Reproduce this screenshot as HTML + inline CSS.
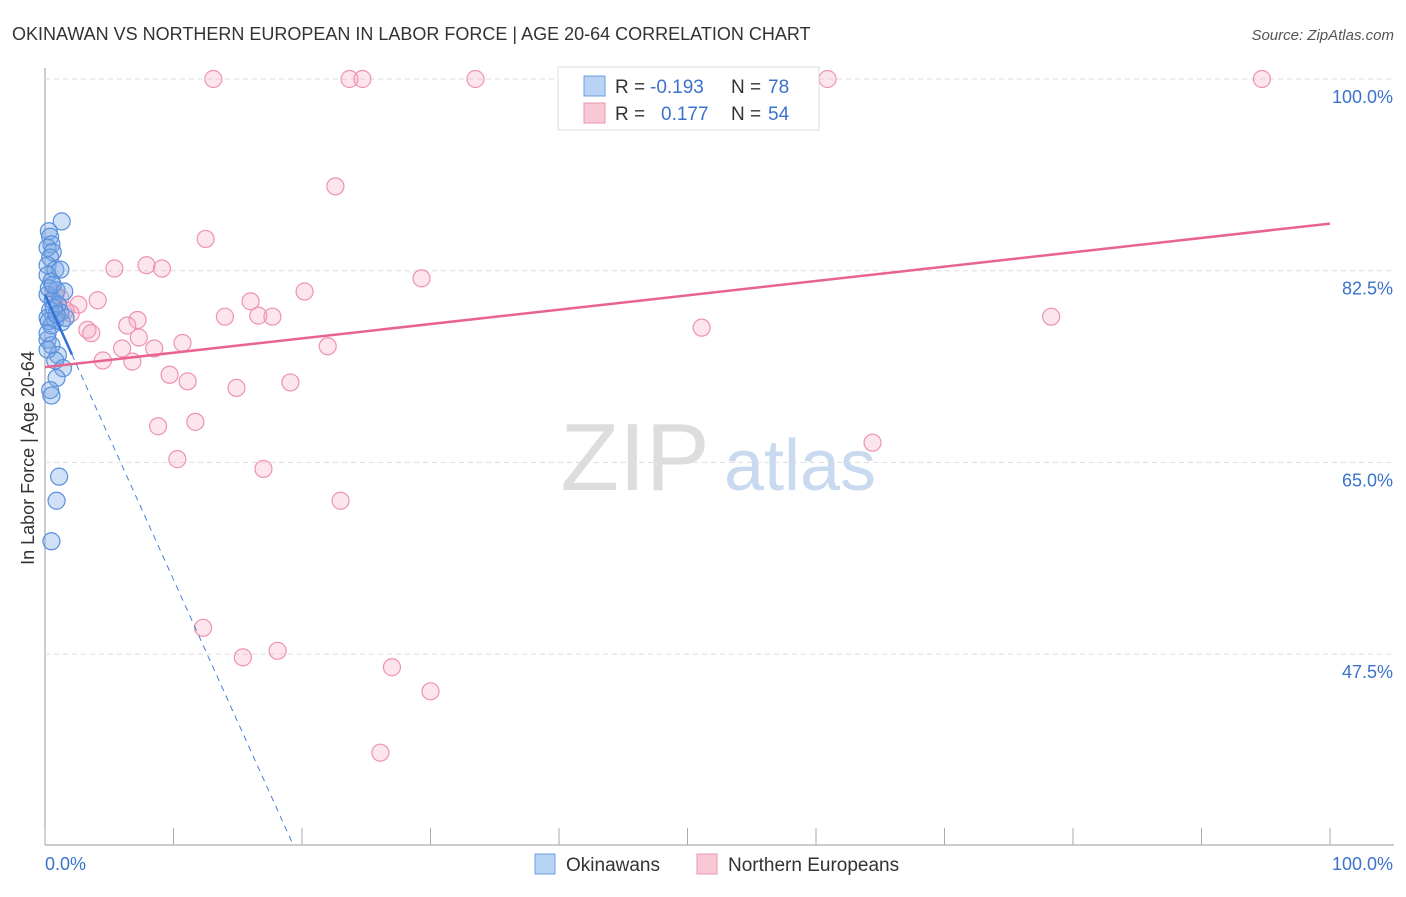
<!DOCTYPE html>
<html><head><meta charset="utf-8"><style>
body{margin:0;background:#fff;font-family:"Liberation Sans",sans-serif}
svg text{font-family:"Liberation Sans",sans-serif}
</style></head><body>
<svg id="c" width="1406" height="892">
<text x="12" y="40" font-size="18" fill="#333">OKINAWAN VS NORTHERN EUROPEAN IN LABOR FORCE | AGE 20-64 CORRELATION CHART</text>
<text x="1394" y="40" font-size="15" fill="#555" font-style="italic" text-anchor="end">Source: ZipAtlas.com</text>
<text x="34" y="458" font-size="18" fill="#333" text-anchor="middle" transform="rotate(-90 34 458)">In Labor Force | Age 20-64</text>
<g><text x="635" y="490" font-size="96" fill="#ddd" font-family="Liberation Serif" text-anchor="middle">ZIP</text><text x="800" y="490" font-size="72" fill="#c8d9f0" text-anchor="middle">atlas</text></g>
<g id="grid"></g><g id="pts"></g><g id="lines"></g>
<g>
<rect x="558" y="67" width="261" height="63" fill="#fff" stroke="#ddd"/>
<rect x="584" y="76" width="21" height="20" fill="#b9d3f5" stroke="#6a9fe0"/>
<rect x="584" y="103" width="21" height="20" fill="#f9c8d6" stroke="#ee93ad"/>
<text x="615" y="93" font-size="19" fill="#333">R =</text><text x="650" y="93" font-size="19" fill="#3a72cc">-0.193</text>
<text x="731" y="93" font-size="19" fill="#333">N =</text><text x="768" y="93" font-size="19" fill="#3a72cc">78</text>
<text x="615" y="120" font-size="19" fill="#333">R =</text><text x="661" y="120" font-size="19" fill="#3a72cc">0.177</text>
<text x="731" y="120" font-size="19" fill="#333">N =</text><text x="768" y="120" font-size="19" fill="#3a72cc">54</text>
</g>
<g>
<rect x="535" y="854" width="20" height="20" fill="#b9d3f5" stroke="#6a9fe0"/>
<text x="566" y="871" font-size="19" fill="#333">Okinawans</text>
<rect x="697" y="854" width="20" height="20" fill="#f9c8d6" stroke="#ee93ad"/>
<text x="728" y="871" font-size="19" fill="#333">Northern Europeans</text>
</g>
</svg>
<script>
const yTicks=[100,82.5,65,47.5];
const yTickLabels=["100.0%","82.5%","65.0%","47.5%"];
const xTickLabels=["0.0%","100.0%"];
const blueX=[1.3,0.3,0.4,0.5,0.2,0.6,0.4,0.2,0.8,1.2,0.2,0.5,0.9,1.5,0.2,0.6,1.0,0.4,1.2,0.2,0.8,1.3,0.5,1.6,0.2,0.5,1.0,0.2,0.8,1.4,0.9,0.4,0.5,1.1,0.9,0.5,0.3,0.7,0.3,0.6,0.2,0.9];
const blueY=[87.0,86.1,85.6,84.9,84.6,84.2,83.7,83.0,82.6,82.6,82.1,81.5,80.7,80.6,80.3,79.8,79.4,78.9,78.7,78.2,78.0,77.8,77.5,78.2,76.2,75.7,74.8,75.3,74.3,73.6,72.7,71.6,71.1,63.7,61.5,57.8,80.9,79.1,77.9,81.2,76.8,78.5];
const pinkX=[13.1,23.7,24.7,33.5,40.9,60.9,94.7,22.6,12.5,5.4,7.9,9.1,29.3,20.2,4.1,16.0,2.6,1.2,2.0,14.0,16.6,17.7,78.3,7.2,6.4,51.1,3.3,3.6,7.3,6.0,10.7,8.5,22.0,4.5,6.8,9.7,11.1,14.9,19.1,8.8,11.7,64.4,10.3,17.0,23.0,12.3,15.4,18.1,27.0,30.0,26.1,0.8,1.6];
const pinkY=[100,100,100,100,100,100,100,90.2,85.4,82.7,83.0,82.7,81.8,80.6,79.8,79.7,79.4,80.0,78.6,78.3,78.4,78.3,78.3,78.0,77.5,77.3,77.1,76.8,76.4,75.4,75.9,75.4,75.6,74.3,74.2,73.0,72.4,71.8,72.3,68.3,68.7,66.8,65.3,64.4,61.5,49.9,47.2,47.8,46.3,44.1,38.5,80.3,78.9];
const blueLine=[80.3,-2.6]; const pinkLine=[73.7,0.131];
const NS="http://www.w3.org/2000/svg";
const X=v=>45+v*12.85, Y=v=>79+(100-v)*10.954;
function mk(t,a,p){const e=document.createElementNS(NS,t);for(const k in a)e.setAttribute(k,a[k]);p.appendChild(e);return e;}
const g=document.getElementById('grid'),c=document.getElementById('c');
let ax=mk('line',{x1:45,y1:68,x2:45,y2:845,stroke:'#999'},g);


let bx=mk('line',{x1:45,y1:845,x2:1394,y2:845,stroke:'#999'},g);


for(let i=0;i<=10;i++){let t=mk('line',{x1:X(i*10),x2:X(i*10),y1:828,y2:845,stroke:'#aaa'},g);

}
yTicks.forEach((v,i)=>{let l=mk('line',{x1:45,x2:1394,y1:Y(v),y2:Y(v),stroke:'#ddd','stroke-dasharray':'5,4'},g);


let t=mk('text',{x:1393,y:Y(v)+24,'font-size':18,fill:'#3a72cc','text-anchor':'end'},g);t.textContent=yTickLabels[i];

});
[[0,'start',45],[1,'end',1393]].forEach(([i,a,x])=>{let t=mk('text',{x:x,y:870,'font-size':18,fill:'#3a72cc','text-anchor':a},g);t.textContent=xTickLabels[i];

});
const p=document.getElementById('pts');
pinkX.forEach((x,i)=>{let e=mk('circle',{cx:X(x),cy:Y(pinkY[i]),r:8.5,fill:'rgba(246,170,195,0.3)',stroke:'#ee93ad','stroke-width':1.2},p);

});
blueX.forEach((x,i)=>{let e=mk('circle',{cx:X(x),cy:Y(blueY[i]),r:8.5,fill:'rgba(120,165,230,0.35)',stroke:'#5a90dc','stroke-width':1.2},p);

});
const L=document.getElementById('lines');
let pl=mk('line',{x1:X(0),y1:Y(pinkLine[0]),x2:X(100),y2:Y(pinkLine[0]+pinkLine[1]*100),stroke:'#e8638f','stroke-width':2.5},L);


let bl=mk('line',{x1:X(0),y1:Y(blueLine[0]),x2:X(2.1),y2:Y(blueLine[0]+blueLine[1]*2.1),stroke:'#2f6fd6','stroke-width':2.5},L);


let bd=mk('line',{x1:X(2.1),y1:Y(blueLine[0]+blueLine[1]*2.1),x2:X(19.3),y2:Y(blueLine[0]+blueLine[1]*19.3),stroke:'#4a80d8','stroke-width':1,'stroke-dasharray':'6,5'},L);


</script>
</body></html>
